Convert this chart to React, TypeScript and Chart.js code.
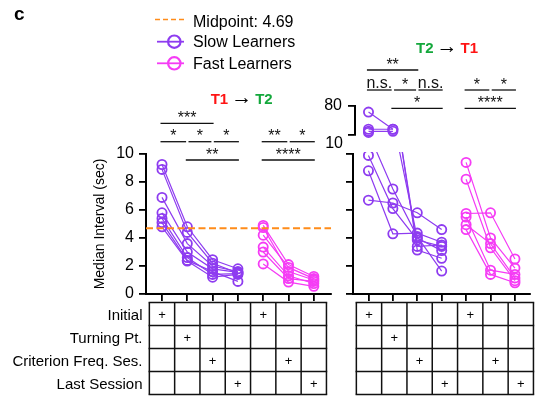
import React, { useEffect, useRef } from 'react';
import { Chart, registerables } from 'chart.js';

Chart.register(...registerables);

// ---------------- data ----------------
const rowLabels = ['Initial', 'Turning Pt.', 'Criterion Freq. Ses.', 'Last Session'];
const columnRow = [0, 1, 2, 3, 0, 2, 3];
const columns = [0, 1, 2, 3, 4, 5, 6];
const slowColumns = [0, 1, 2, 3];
const fastColumns = [4, 5, 6];
const midpoint = 4.69;
const yTicks = [0, 2, 4, 6, 8, 10];
const breakTicks = [10, 80];

const slowT1T2 = [
  [9.25, 4.8, 2.45, 1.8],
  [8.9, 4.4, 2.2, 1.5],
  [6.9, 3.6, 2.0, 1.6],
  [5.8, 3.0, 1.8, 1.55],
  [5.4, 2.6, 1.4, 1.45],
  [5.1, 2.4, 1.6, 0.9],
  [4.8, 2.35, 1.2, 1.4],
];
const fastT1T2 = [
  [4.9, 2.1, 1.25],
  [4.75, 1.6, 1.0],
  [4.2, 1.9, 1.1],
  [3.35, 1.3, 0.75],
  [3.0, 1.1, 0.9],
  [2.15, 0.85, 0.55],
];
const slowT2T1 = [
  [9.9, 6.1, 3.86, 3.4],
  [8.8, 4.3, 4.35, 3.7],
  [6.7, 6.5, 5.8, 4.6],
  [11.5, 7.5, 4.1, 1.64],
  [50, 14.5, 3.4, 3.5],
  [14.5, 14.5, 3.14, 2.55],
  [12.5, 12.5, 4.0, 3.1],
];
const fastT2T1 = [
  [9.4, 4.0, 1.85],
  [8.2, 3.3, 0.95],
  [5.75, 5.8, 2.5],
  [5.5, 1.7, 1.4],
  [4.95, 3.6, 1.15],
  [4.6, 1.4, 0.8],
];

type Bracket = { from: number; to: number; row: number; label: string };
const bracketsT1T2: Bracket[] = [
  { from: 0, to: 2, row: 0, label: '***' },
  { from: 0, to: 1, row: 1, label: '*' },
  { from: 1, to: 2, row: 1, label: '*' },
  { from: 2, to: 3, row: 1, label: '*' },
  { from: 4, to: 5, row: 1, label: '**' },
  { from: 5, to: 6, row: 1, label: '*' },
  { from: 1, to: 3, row: 2, label: '**' },
  { from: 4, to: 6, row: 2, label: '****' },
];
const bracketsT2T1: Bracket[] = [
  { from: 0, to: 2, row: 0, label: '**' },
  { from: 0, to: 1, row: 1, label: 'n.s.' },
  { from: 1, to: 2, row: 1, label: '*' },
  { from: 2, to: 3, row: 1, label: 'n.s.' },
  { from: 4, to: 5, row: 1, label: '*' },
  { from: 5, to: 6, row: 1, label: '*' },
  { from: 1, to: 3, row: 2, label: '*' },
  { from: 4, to: 6, row: 2, label: '****' },
];

// ---------------- style / layout ----------------
const FONT = '"Liberation Sans", Arial, Helvetica, sans-serif';
const PURPLE = '#8e3cf0';
const MAGENTA = '#f53cf5';
const ORANGE = '#ff8c1a';
const INK = '#111';
const RED = '#ff1414';
const GREEN = '#14a83c';

const STEP = 25.3;
const TABLE_TOP = 302.5;
const ROW_H = 23;

const LEFT = { left: 60, top: 100, width: 280, height: 210, areaLeft: 146, areaRight: 331, x0: 162,
  pad: { left: 32, top: 54, right: 9, bottom: 7 }, yWidth: 54, rows: [123.3, 141.7, 160] };
const RIGHT = { left: 300, top: 40, width: 236, height: 270, areaLeft: 353, areaRight: 536, x0: 369,
  pad: { left: 0, top: 114, right: 0, bottom: 7 }, yWidth: 53, rows: [70, 90, 108.3] };
const UPPER = { left: 300, top: 90, width: 236, height: 60, areaLeft: 355, areaRight: 536, x0: 369,
  pad: { left: 1, top: 12, right: 0, bottom: 14 }, yWidth: 54 };

const xMin = (p: any) => -(p.x0 - p.areaLeft) / STEP;
const xMax = (p: any) => (p.areaRight - p.x0) / STEP;

function subjectSets(rows: number[][], cols: number[], color: string, clip: any, keep?: (v: number) => boolean) {
  return rows.map((vals) => ({
    data: cols.map((c, i) => ({ x: c, y: keep && !keep(vals[i]) ? null : vals[i] })),
    borderColor: color,
    borderWidth: 1.2,
    pointRadius: 4.6,
    pointBorderWidth: 1.8,
    pointBorderColor: color,
    pointBackgroundColor: 'rgba(0,0,0,0)',
    pointStyle: 'circle',
    tension: 0,
    clip,
  }));
}

function bracketPlugin(list: Bracket[], rowsY: number[], canvasTop: number) {
  return {
    id: 'sigBrackets',
    afterDraw(chart: any) {
      const ctx = chart.ctx;
      const xs = chart.scales.x;
      ctx.save();
      ctx.strokeStyle = INK;
      ctx.fillStyle = INK;
      ctx.lineWidth = 1.3;
      ctx.font = `16px ${FONT}`;
      ctx.textAlign = 'center';
      ctx.textBaseline = 'alphabetic';
      list.forEach((b) => {
        const same = list.filter((o) => o !== b && o.row === b.row);
        const joinL = same.some((o) => o.to === b.from);
        const joinR = same.some((o) => o.from === b.to);
        const x1 = xs.getPixelForValue(b.from) + (joinL ? 1.2 : -1.5);
        const x2 = xs.getPixelForValue(b.to) + (joinR ? -1.2 : 1);
        const y = rowsY[b.row] - canvasTop;
        ctx.beginPath();
        ctx.moveTo(x1, y);
        ctx.lineTo(x2, y);
        ctx.stroke();
        ctx.fillText(b.label, (x1 + x2) / 2, y - (b.label === 'n.s.' ? 2 : 0.5));
      });
      ctx.restore();
    },
  };
}

const axisGrid = { drawOnChartArea: false, color: '#000', lineWidth: 1.8, tickLength: 7 };
const axisBorder = { color: '#000', width: 2 };

function xScale(p: any, display = true) {
  return {
    type: 'linear',
    display,
    min: xMin(p),
    max: xMax(p),
    afterBuildTicks: (a: any) => { a.ticks = columns.map((v) => ({ value: v })); },
    ticks: { display: false, autoSkip: false },
    grid: axisGrid,
    border: axisBorder,
    afterFit: (a: any) => { a.height = display ? 9 : 0; },
  };
}

const baseOptions = (pad: any) => ({
  responsive: false,
  animation: false as const,
  events: [] as any[],
  layout: { padding: pad },
  plugins: { legend: { display: false }, tooltip: { enabled: false } },
});

function leftConfig(): any {
  const clip = { left: 10, right: 10, top: 10, bottom: 10 };
  return {
    type: 'line',
    data: {
      datasets: [
        {
          data: [{ x: xMin(LEFT), y: midpoint }, { x: xMax(LEFT), y: midpoint }],
          borderColor: ORANGE, borderWidth: 2, borderDash: [7, 3.5], pointRadius: 0, clip: false,
        },
        ...subjectSets(slowT1T2, slowColumns, PURPLE, clip),
        ...subjectSets(fastT1T2, fastColumns, MAGENTA, clip),
      ],
    },
    options: {
      ...baseOptions(LEFT.pad),
      scales: {
        x: xScale(LEFT),
        y: {
          type: 'linear', min: 0, max: 10,
          afterBuildTicks: (a: any) => { a.ticks = yTicks.map((v) => ({ value: v })); },
          ticks: { color: '#000', font: { size: 16, family: FONT }, padding: 5, autoSkip: false },
          grid: axisGrid, border: axisBorder,
          title: { display: true, text: 'Median Interval (sec)', color: '#000', font: { size: 14, family: FONT }, padding: 0 },
          afterFit: (a: any) => { a.width = LEFT.yWidth; },
        },
      },
    },
    plugins: [bracketPlugin(bracketsT1T2, LEFT.rows, LEFT.top)],
  };
}

function rightConfig(): any {
  const clip = { left: 10, right: 10, top: 2, bottom: 10 };
  return {
    type: 'line',
    data: {
      datasets: [
        ...subjectSets(slowT2T1, slowColumns, PURPLE, clip),
        ...subjectSets(fastT2T1, fastColumns, MAGENTA, clip),
      ],
    },
    options: {
      ...baseOptions(RIGHT.pad),
      scales: {
        x: xScale(RIGHT),
        y: {
          type: 'linear', min: 0, max: 10,
          afterBuildTicks: (a: any) => { a.ticks = yTicks.map((v) => ({ value: v })); },
          ticks: {
            color: '#000', font: { size: 16, family: FONT }, padding: 3, labelOffset: -10, autoSkip: false,
            callback: (v: any) => (v === breakTicks[0] ? String(v) : ''),
          },
          grid: axisGrid, border: axisBorder,
          afterFit: (a: any) => { a.width = RIGHT.yWidth; },
        },
      },
    },
    plugins: [bracketPlugin(bracketsT2T1, RIGHT.rows, RIGHT.top)],
  };
}

function upperConfig(): any {
  const clip = { left: 10, right: 10, top: 10, bottom: 6 };
  const keep = (v: number) => v >= breakTicks[0];
  return {
    type: 'line',
    data: {
      datasets: [
        ...subjectSets(slowT2T1, slowColumns, PURPLE, clip, keep),
        ...subjectSets(fastT2T1, fastColumns, MAGENTA, clip, keep),
      ],
    },
    options: {
      ...baseOptions(UPPER.pad),
      scales: {
        x: xScale(UPPER, false),
        y: {
          type: 'logarithmic', min: breakTicks[0], max: breakTicks[1],
          afterBuildTicks: (a: any) => { a.ticks = breakTicks.map((v) => ({ value: v })); },
          ticks: {
            color: '#000', font: { size: 16, family: FONT }, padding: 6, autoSkip: false,
            callback: (v: any) => (v === breakTicks[1] ? String(v) : ''),
          },
          grid: axisGrid, border: axisBorder,
          afterFit: (a: any) => { a.width = UPPER.yWidth; },
        },
      },
    },
  };
}

// ---------------- HTML helpers ----------------
function Txt(props: { x: number; baseline: number; size: number; bold?: boolean; children: any; color?: string }) {
  const { x, baseline, size, bold, children, color } = props;
  return (
    <div style={{ position: 'absolute', left: x, top: baseline - 0.8465 * size, fontSize: size, lineHeight: `${size}px`,
      fontWeight: bold ? 'bold' : 'normal', whiteSpace: 'nowrap', color: color || '#000' }}>{children}</div>
  );
}

function Title(props: { cx: number; baseline: number; a: string; ca: string; b: string; cb: string }) {
  const size = 15;
  return (
    <div style={{ position: 'absolute', left: props.cx - 60, width: 120, textAlign: 'center', top: props.baseline - 0.8465 * size,
      fontSize: size, lineHeight: `${size}px`, whiteSpace: 'nowrap' }}>
      <span style={{ color: props.ca, fontWeight: 'bold' }}>{props.a}</span>
      <span style={{ color: '#000', fontSize: 21, margin: '0 3px', lineHeight: `${size}px` }}>→</span>
      <span style={{ color: props.cb, fontWeight: 'bold' }}>{props.b}</span>
    </div>
  );
}

function tableLines(x0: number) {
  const left = x0 - STEP / 2;
  const w = columnRow.length * STEP;
  const h = rowLabels.length * ROW_H;
  const out: any[] = [];
  for (let i = 0; i <= columnRow.length; i++) {
    const x = left + i * STEP;
    out.push(<line key={`v${x0}-${i}`} x1={x} x2={x} y1={TABLE_TOP} y2={TABLE_TOP + h} stroke={INK} strokeWidth={1.5} />);
  }
  for (let r = 0; r <= rowLabels.length; r++) {
    const y = TABLE_TOP + r * ROW_H;
    out.push(<line key={`h${x0}-${r}`} x1={left - 0.75} x2={left + w + 0.75} y1={y} y2={y} stroke={INK} strokeWidth={1.5} />);
  }
  return out;
}

function crosses(x0: number) {
  return columnRow.map((r, c) => (
    <div key={`p${x0}-${c}`} style={{ position: 'absolute', left: x0 + c * STEP - 10, width: 20, textAlign: 'center',
      top: TABLE_TOP + r * ROW_H, height: ROW_H, lineHeight: `${ROW_H}px`, fontSize: 13 }}>+</div>
  ));
}

export default function App() {
  const leftRef = useRef<HTMLCanvasElement>(null);
  const rightRef = useRef<HTMLCanvasElement>(null);
  const upperRef = useRef<HTMLCanvasElement>(null);

  useEffect(() => {
    Chart.defaults.font.family = FONT;
    Chart.defaults.color = '#000';
    const charts = [
      new Chart(leftRef.current as HTMLCanvasElement, leftConfig()),
      new Chart(rightRef.current as HTMLCanvasElement, rightConfig()),
      new Chart(upperRef.current as HTMLCanvasElement, upperConfig()),
    ];
    return () => charts.forEach((c) => c.destroy());
  }, []);

  const cv = (p: any) => ({ position: 'absolute' as const, left: p.left, top: p.top, width: p.width, height: p.height });

  return (
    <div style={{ position: 'fixed', left: 0, top: 0, width: 536, height: 398, overflow: 'hidden', background: '#fff',
      fontFamily: FONT, color: '#000' }}>
      <canvas ref={leftRef} width={LEFT.width} height={LEFT.height} style={cv(LEFT)} />
      <canvas ref={rightRef} width={RIGHT.width} height={RIGHT.height} style={cv(RIGHT)} />
      <canvas ref={upperRef} width={UPPER.width} height={UPPER.height} style={cv(UPPER)} />

      <svg width={536} height={398} style={{ position: 'absolute', left: 0, top: 0 }}>
        <line x1={155} x2={187} y1={19.5} y2={19.5} stroke={ORANGE} strokeWidth={1.6} strokeDasharray="5 3" />
        <line x1={157} x2={184} y1={41.7} y2={41.7} stroke={PURPLE} strokeWidth={1.8} />
        <circle cx={174.3} cy={41.7} r={6.2} fill="none" stroke={PURPLE} strokeWidth={2.2} />
        <line x1={157} x2={184} y1={63.3} y2={63.3} stroke={MAGENTA} strokeWidth={1.8} />
        <circle cx={174.3} cy={63.3} r={6.2} fill="none" stroke={MAGENTA} strokeWidth={2.2} />
        {tableLines(LEFT.x0)}
        {tableLines(RIGHT.x0)}
      </svg>

      <Txt x={14} baseline={20} size={19} bold>c</Txt>
      <Txt x={193} baseline={27.3} size={16}>Midpoint: {midpoint}</Txt>
      <Txt x={193} baseline={47.7} size={16}>Slow Learners</Txt>
      <Txt x={193} baseline={70} size={16}>Fast Learners</Txt>

      <Title cx={241.7} baseline={101.7} a="T1" ca={RED} b="T2" cb={GREEN} />
      <Title cx={447} baseline={50.7} a="T2" ca={GREEN} b="T1" cb={RED} />

      {rowLabels.map((label, r) => (
        <div key={label} style={{ position: 'absolute', left: 0, width: 142.5, textAlign: 'right', top: TABLE_TOP + r * ROW_H,
          height: ROW_H, lineHeight: `${ROW_H}px`, fontSize: 15, whiteSpace: 'nowrap' }}>{label}</div>
      ))}
      {crosses(LEFT.x0)}
      {crosses(RIGHT.x0)}
    </div>
  );
}
